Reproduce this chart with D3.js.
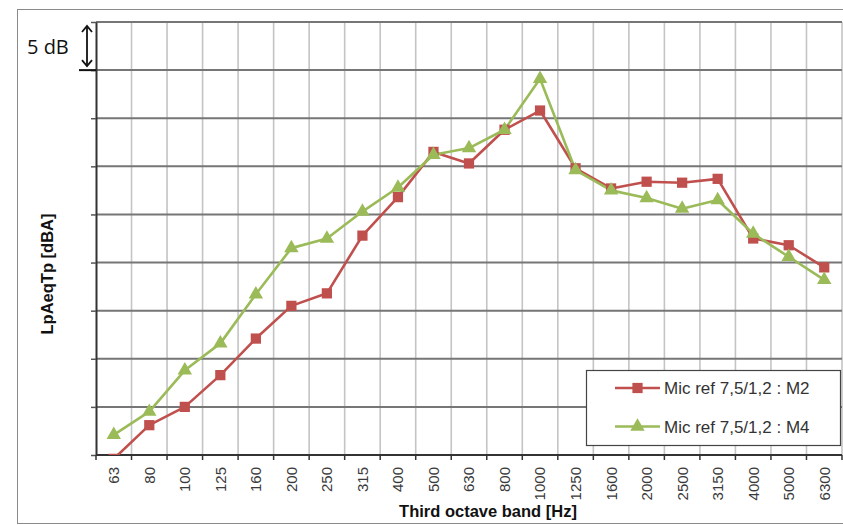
<!DOCTYPE html>
<html>
<head>
<meta charset="utf-8">
<script src="https://cdn.jsdelivr.net/npm/d3@7"></script>
<style>
  body { margin: 0; background: #fff; }
  svg { display: block; font-family: "Liberation Sans", Arial, sans-serif; }
</style>
</head>
<body>
<div id="chart"></div>
<script>
// Third octave band centre frequencies [Hz]
var bands = ["63", "80", "100", "125", "160", "200", "250", "315", "400", "500", "630",
             "800", "1000", "1250", "1600", "2000", "2500", "3150", "4000", "5000", "6300"];

// LpAeqTp, relative dB (no absolute scale shown, 5 dB per grid step)
var m2 = [-0.4, 3.1, 5.0, 8.3, 12.1, 15.5, 16.8, 22.8, 26.8, 31.5, 30.3,
          33.8, 35.8, 29.8, 27.7, 28.4, 28.3, 28.7, 22.5, 21.8, 19.5];
var m4 = [2.1, 4.5, 8.8, 11.6, 16.7, 21.5, 22.5, 25.3, 27.8, 31.2, 31.9,
          33.8, 39.1, 29.6, 27.5, 26.7, 25.6, 26.5, 23.0, 20.6, 18.2];

var seriesNames = ["Mic ref 7,5/1,2 : M2", "Mic ref 7,5/1,2 : M4"];
var yTicks = [0, 5, 10, 15, 20, 25, 30, 35, 40, 45];

var W = 843, H = 525;
var margin = {top: 22, right: 1, bottom: 70, left: 96};

var svg = d3.select("#chart").append("svg")
    .attr("width", W)
    .attr("height", H);

// outer frame
svg.append("rect")
    .attr("x", 17.5).attr("y", 9.5)
    .attr("width", 900).attr("height", 514)
    .attr("fill", "#fff")
    .attr("stroke", "#8a8a8a");

var x = d3.scaleBand().domain(bands).range([margin.left, W - margin.right]).padding(0);
var y = d3.scaleLinear().domain([0, 45]).range([H - margin.bottom, margin.top]);

// vertical grid at band boundaries
svg.append("g")
  .selectAll("line")
  .data(bands)
  .enter().append("line")
    .attr("x1", function(d) { return x(d) + x.bandwidth(); })
    .attr("x2", function(d) { return x(d) + x.bandwidth(); })
    .attr("y1", y(45)).attr("y2", y(0))
    .attr("stroke", "#c4c4c4")
    .attr("stroke-width", 1.6);

// horizontal grid
svg.append("g")
  .selectAll("line")
  .data(yTicks.slice(1))
  .enter().append("line")
    .attr("x1", margin.left).attr("x2", W - margin.right)
    .attr("y1", function(d) { return y(d); })
    .attr("y2", function(d) { return y(d); })
    .attr("stroke", "#767676")
    .attr("stroke-width", 2);

// y axis (ticks only, no labels)
svg.append("g")
    .attr("transform", "translate(" + margin.left + ",0)")
    .call(d3.axisLeft(y).tickValues(yTicks).tickSize(5).tickSizeOuter(0).tickFormat(""))
    .call(function(g) {
      g.select(".domain").attr("stroke", "#333").attr("stroke-width", 2);
      g.selectAll(".tick line").attr("stroke", "#555").attr("stroke-width", 1.5);
    });

// x axis: ticks at band boundaries, labels at band centres
var xAxis = svg.append("g")
    .attr("transform", "translate(0," + y(0) + ")");
xAxis.append("line")
    .attr("x1", margin.left).attr("x2", W - margin.right)
    .attr("stroke", "#333").attr("stroke-width", 2);
xAxis.selectAll(".bt")
  .data([bands[0]].concat(bands))
  .enter().append("line")
    .attr("x1", function(d, i) { return i === 0 ? x(d) : x(d) + x.bandwidth(); })
    .attr("x2", function(d, i) { return i === 0 ? x(d) : x(d) + x.bandwidth(); })
    .attr("y1", 0).attr("y2", 5)
    .attr("stroke", "#333").attr("stroke-width", 1.5);
xAxis.selectAll("text")
  .data(bands)
  .enter().append("text")
    .attr("transform", function(d) {
      return "translate(" + (x(d) + x.bandwidth() / 2) + ",12) rotate(-90)";
    })
    .attr("dy", "0.36em")
    .attr("text-anchor", "end")
    .attr("fill", "#3a3a3a")
    .style("font-size", "15px")
    .text(function(d) { return d; });

// axis titles
svg.append("text")
    .attr("x", 488).attr("y", 517)
    .attr("text-anchor", "middle")
    .attr("font-weight", "bold")
    .attr("fill", "#111")
    .style("font-size", "16.5px")
    .text("Third octave band [Hz]");

svg.append("text")
    .attr("transform", "translate(53," + 274 + ") rotate(-90)")
    .attr("text-anchor", "middle")
    .attr("font-weight", "bold")
    .attr("fill", "#111")
    .style("font-size", "16.5px")
    .text("LpAeqTp [dBA]");

// series
var colors = ["#c0504d", "#9bbb59"];
var allSeries = [m2, m4];

svg.append("clipPath").attr("id", "plotclip")
  .append("rect")
    .attr("x", margin.left).attr("y", margin.top)
    .attr("width", W - margin.right - margin.left)
    .attr("height", y(0) - margin.top);

var plot = svg.append("g").attr("clip-path", "url(#plotclip)");

var line = d3.line()
    .x(function(d, i) { return x(bands[i]) + x.bandwidth() / 2; })
    .y(function(d) { return y(d); });

var square = d3.symbol().type(d3.symbolSquare).size(105);
var triangle = d3.symbol().type(d3.symbolTriangle).size(90);
var shapes = [square, triangle];

allSeries.forEach(function(s, k) {
  plot.append("path")
      .datum(s)
      .attr("fill", "none")
      .attr("stroke", colors[k])
      .attr("stroke-width", 2.6)
      .attr("stroke-linejoin", "round")
      .attr("d", line);
});
allSeries.forEach(function(s, k) {
  plot.selectAll(".m" + k)
    .data(s)
    .enter().append("path")
      .attr("transform", function(d, i) {
        return "translate(" + (x(bands[i]) + x.bandwidth() / 2) + "," + y(d) + ")";
      })
      .attr("d", shapes[k])
      .attr("fill", colors[k]);
});

// "5 dB" scale annotation
var ax = 87;
var ann = svg.append("g").attr("stroke", "#111").attr("fill", "none").attr("stroke-width", 1.8);
ann.append("line").attr("x1", ax).attr("x2", ax).attr("y1", y(45) + 4).attr("y2", y(40) - 4);
ann.append("path").attr("d", "M" + (ax - 5) + "," + (y(45) + 10) + "L" + ax + "," + (y(45) + 4) + "L" + (ax + 5) + "," + (y(45) + 10));
ann.append("path").attr("d", "M" + (ax - 5) + "," + (y(40) - 10) + "L" + ax + "," + (y(40) - 4) + "L" + (ax + 5) + "," + (y(40) - 10));
ann.append("line").attr("x1", 79).attr("x2", margin.left).attr("y1", y(40)).attr("y2", y(40)).attr("stroke-width", 2);
svg.append("text")
    .attr("x", 27).attr("y", (y(45) + y(40)) / 2 + 8)
    .attr("fill", "#111")
    .style("font-family", "'Open Sans', sans-serif")
    .style("font-size", "20px")
    .text("5 dB");

// legend
var lg = svg.append("g");
lg.append("rect")
    .attr("x", 586.5).attr("y", 370.5)
    .attr("width", 254).attr("height", 75)
    .attr("fill", "#fff")
    .attr("stroke", "#444").attr("stroke-width", 1.2);
seriesNames.forEach(function(name, k) {
  var ly = 388 + k * 38.5;
  lg.append("line")
      .attr("x1", 615).attr("x2", 660).attr("y1", ly).attr("y2", ly)
      .attr("stroke", colors[k]).attr("stroke-width", 2.6);
  lg.append("path")
      .attr("transform", "translate(637.5," + ly + ")")
      .attr("d", shapes[k])
      .attr("fill", colors[k]);
  lg.append("text")
      .attr("x", 664).attr("y", ly + 6)
      .attr("fill", "#333")
      .style("font-size", "17px")
      .text(name);
});
</script>
</body>
</html>
